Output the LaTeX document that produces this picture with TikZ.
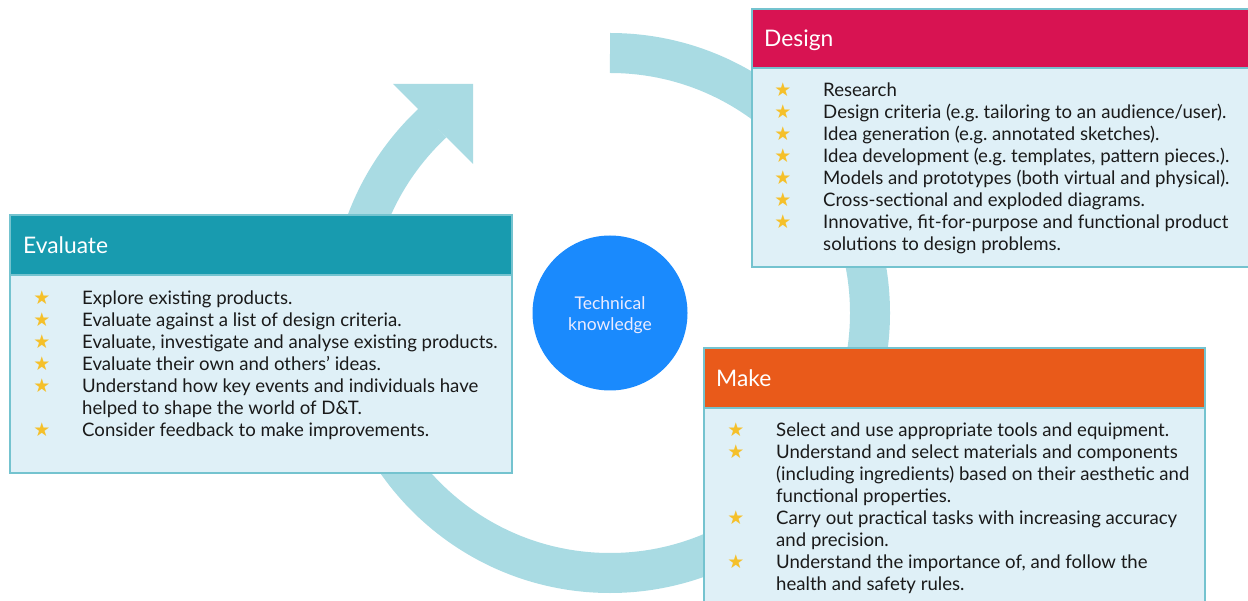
\documentclass[tikz,border=0pt]{standalone}
\usepackage{fontspec}
\setmainfont{Lato}
\newfontfamily\starfont{DejaVu Sans}
\frenchspacing
\definecolor{ringc}{HTML}{A9DBE3}
\definecolor{bodyc}{HTML}{DFF0F7}
\definecolor{borderc}{HTML}{74C3CF}
\definecolor{designc}{HTML}{D81352}
\definecolor{evalc}{HTML}{189BAF}
\definecolor{makec}{HTML}{E95A1A}
\definecolor{circc}{HTML}{1A8AFD}
\definecolor{starc}{HTML}{F5C02A}
\definecolor{txtc}{HTML}{1A1A1A}
\tikzset{
  ring/.style={draw=ringc, line width=40pt, line cap=butt},
  bodybox/.style={fill=bodyc, draw=borderc, line width=1.5pt},
  headbox/.style={draw=borderc, line width=1.5pt},
  headtxt/.style={anchor=base west, inner sep=0pt, text=white, font=\fontsize{22.8}{26}\selectfont},
  ln/.style={anchor=base west, inner sep=0pt, text=txtc, font=\fontsize{18.6}{22}\selectfont},
  st/.style={anchor=base, inner sep=0pt, text=starc, font=\starfont\fontsize{19}{22}\selectfont},
}
\begin{document}
\begin{tikzpicture}[x=1pt,y=-1pt]
\useasboundingbox (0,0) rectangle (1248,601);
% ring
\draw[ring] (610,53) arc[start angle=-90, end angle=227, radius=260];
\fill[ringc] (393,84) -- (473,84) -- (473,164) -- cycle;
% circle
\node[circle, fill=circc, minimum size=155pt, inner sep=0pt] (tk) at (610,313) {};
\node[text=white!92!blue, align=center, inner sep=0pt, anchor=base,
  font=\fontsize{17.5}{21.5}\selectfont] (tkt) at (610,331) {Technical\\knowledge};
% Design box
\draw[bodybox] (752,9) rectangle (1262,267);
\fill[designc] (752,9) rectangle (1262,68);
\draw[headbox] (752,9) rectangle (1262,68);
\node[headtxt] (dh) at (764,47) {Design};
\foreach \yy in {96.7,118.7,140.7,162.7,184.7,206.7,228.7} \node[st] at (783,\yy) {★};
\node[ln] (d1) at (823,96.7) {Research};
\node[ln] (d2) at (823,118.7) {Design criteria (e.g. tailoring to an audience/user).};
\node[ln] (d3) at (823,140.7) {Idea generation (e.g. annotated sketches).};
\node[ln] (d4) at (823,162.7) {Idea development (e.g. templates, pattern pieces.).};
\node[ln] (d5) at (823,184.7) {Models and prototypes (both virtual and physical).};
\node[ln] (d6) at (823,206.7) {Cross-sectional and exploded diagrams.};
\node[ln] (d7) at (823,228.7) {Innovative, fit-for-purpose and functional product};
\node[ln] (d8) at (823,250.7) {solutions to design problems.};
% Evaluate box
\draw[bodybox] (10,215) rectangle (512,473);
\fill[evalc] (10,215) rectangle (512,275);
\draw[headbox] (10,215) rectangle (512,275);
\node[headtxt] (eh) at (23,254) {Evaluate};
\foreach \yy in {304.3,326.4,348.5,370.5,392.6,436.7} \node[st] at (42,\yy) {★};
\node[ln] (e1) at (82,304.3) {Explore existing products.};
\node[ln] (e2) at (82,326.4) {Evaluate against a list of design criteria.};
\node[ln] (e3) at (82,348.5) {Evaluate, investigate and analyse existing products.};
\node[ln] (e4) at (82,370.5) {Evaluate their own and others’ ideas.};
\node[ln] (e5) at (82,392.6) {Understand how key events and individuals have};
\node[ln] (e6) at (82,414.6) {helped to shape the world of D\&T.};
\node[ln] (e7) at (82,436.7) {Consider feedback to make improvements.};
% Make box
\draw[bodybox] (704,348) rectangle (1205,625);
\fill[makec] (704,348) rectangle (1205,408);
\draw[headbox] (704,348) rectangle (1205,408);
\node[headtxt] (mh) at (716,386.5) {Make};
\foreach \yy in {436.7,458.7,524.7,568.7} \node[st] at (736,\yy) {★};
\node[ln] (m1) at (776,436.7) {Select and use appropriate tools and equipment.};
\node[ln] (m2) at (776,458.7) {Understand and select materials and components};
\node[ln] (m3) at (776,480.7) {(including ingredients) based on their aesthetic and};
\node[ln] (m4) at (776,502.7) {functional properties.};
\node[ln] (m5) at (776,524.7) {Carry out practical tasks with increasing accuracy};
\node[ln] (m6) at (776,546.7) {and precision.};
\node[ln] (m7) at (776,568.7) {Understand the importance of, and follow the};
\node[ln] (m8) at (776,590.7) {health and safety rules.};
\end{tikzpicture}
\end{document}
